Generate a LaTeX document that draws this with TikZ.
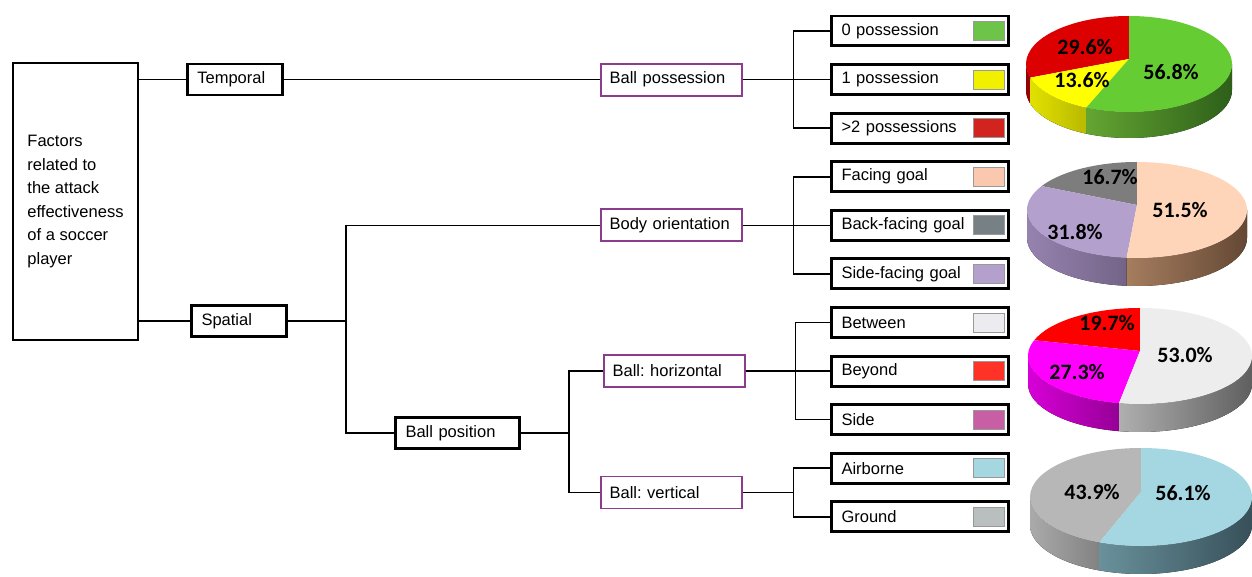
\documentclass[tikz,border=0pt]{standalone}
\usepackage{fontspec}
\setmainfont{Liberation Sans}
\newfontfamily\piefont{Carlito}
\usetikzlibrary{positioning, calc}

\definecolor{boxpurple}{RGB}{140,60,140}
\definecolor{swgreen}{RGB}{110,196,72}
\definecolor{swyellow}{RGB}{240,240,0}
\definecolor{swred}{RGB}{210,35,30}
\definecolor{swpeach}{RGB}{250,200,175}
\definecolor{swslate}{RGB}{118,128,133}
\definecolor{swlilac}{RGB}{180,160,205}
\definecolor{swwhite}{RGB}{236,236,240}
\definecolor{swbright}{RGB}{255,50,40}
\definecolor{swpink}{RGB}{200,95,165}
\definecolor{swcyan}{RGB}{165,215,225}
\definecolor{swgrey}{RGB}{185,190,190}
% pie colours: top, side left, side right
\definecolor{pgreen}{RGB}{102,204,51}
\definecolor{pgreenl}{RGB}{100,165,50}
\definecolor{pgreenr}{RGB}{45,95,25}
\definecolor{pyellow}{RGB}{255,255,0}
\definecolor{pyellowl}{RGB}{225,225,0}
\definecolor{pyellowr}{RGB}{185,185,0}
\definecolor{pred}{RGB}{220,0,0}
\definecolor{predside}{RGB}{150,0,0}
\definecolor{ppeach}{RGB}{255,213,185}
\definecolor{ppeachl}{RGB}{165,125,95}
\definecolor{ppeachr}{RGB}{100,72,52}
\definecolor{plilac}{RGB}{180,160,205}
\definecolor{plilacl}{RGB}{150,130,175}
\definecolor{plilacr}{RGB}{115,100,135}
\definecolor{pdark}{RGB}{125,125,125}
\definecolor{plight}{RGB}{237,237,237}
\definecolor{plightl}{RGB}{175,175,175}
\definecolor{plightr}{RGB}{95,95,95}
\definecolor{pmag}{RGB}{255,0,255}
\definecolor{pmagl}{RGB}{215,0,215}
\definecolor{pmagr}{RGB}{150,0,150}
\definecolor{pscarlet}{RGB}{255,0,0}
\definecolor{pcyan}{RGB}{165,215,226}
\definecolor{pcyanl}{RGB}{105,145,155}
\definecolor{pcyanr}{RGB}{55,80,90}
\definecolor{pgrey}{RGB}{183,183,183}
\definecolor{pgreyl}{RGB}{170,170,170}
\definecolor{pgreyr}{RGB}{130,130,130}

\tikzstyle{mainbox} = [rectangle, draw=black, line width=1.3pt, minimum width=2.5cm, minimum height=5.54cm, align=left, inner sep=0pt]
\tikzstyle{factor} = [rectangle, draw=black, line width=1.6pt, minimum height=0.62cm, inner xsep=0.2cm, inner ysep=2pt, text width=1.5cm, align=left]
\tikzstyle{subfactor} = [rectangle, draw=boxpurple, line width=1.1pt, minimum height=0.64cm, inner xsep=0.18cm, inner ysep=2pt, text width=2.46cm, align=left]
\tikzstyle{leaf} = [rectangle, draw=black, line width=1.7pt, minimum height=0.6cm, inner xsep=0.2cm, inner ysep=2pt, text width=3.14cm, align=left]
\tikzstyle{swatch} = [rectangle, draw=black!40, line width=0.4pt, minimum width=0.62cm, minimum height=0.38cm, inner sep=0pt]
\tikzstyle{connector} = [line width=0.9pt]
\tikzstyle{pct} = [font=\piefont\bfseries\fontsize{12.5}{13}\selectfont, inner sep=0pt]

% top of a slice: cx, cy, rx, ry, from, to, colour
\newcommand{\slicetop}[7]{\fill[#7] (#1,#2+5) -- ($(#1,#2)+(#5:#3 and #4)$) arc[start angle=#5, end angle=#6, x radius=#3, y radius=#4] -- cycle;}
% side of a slice: cx, cy, rx, ry, from, to, depth, left colour, right colour
\newcommand{\sliceside}[9]{\fill[left color=#8, right color=#9] ($(#1,#2)+(#5:#3 and #4)$) arc[start angle=#5, end angle=#6, x radius=#3, y radius=#4] -- ++(0,-#7) arc[start angle=#6, end angle=#5, x radius=#3, y radius=#4] -- cycle;}

\frenchspacing
\begin{document}
\begin{tikzpicture}[x=0.02cm, y=0.02cm, node distance=0.312cm, every node/.style={font=\fontsize{9.4}{13.4}\selectfont}]
\useasboundingbox (0,0) rectangle (1252,-577);

% tree of factors
\node (factors) [mainbox] at (75.5,-201.5) {Factors\\related to\\the attack\\effectiveness\\of a soccer\\player};

\node (zero) [leaf] at (920,-31) {0 possession};
\node (one) [leaf, below = of zero] {1 possession};
\node (twoplus) [leaf, below = of one] {>2 possessions};
\node (facing) [leaf, below = of twoplus] {Facing goal};
\node (backfacing) [leaf, below = of facing] {Back-facing goal};
\node (sidefacing) [leaf, below = of backfacing] {Side-facing goal};
\node (between) [leaf, below = of sidefacing] {Between};
\node (beyond) [leaf, below = of between] {Beyond};
\node (side) [leaf, below = of beyond] {Side};
\node (airborne) [leaf, below = of side] {Airborne};
\node (ground) [leaf, below = of airborne] {Ground};

\node (swzero) [swatch, fill=swgreen, left = 0.11cm of zero.east] {};
\node (swone) [swatch, fill=swyellow, left = 0.11cm of one.east] {};
\node (swtwoplus) [swatch, fill=swred, left = 0.11cm of twoplus.east] {};
\node (swfacing) [swatch, fill=swpeach, left = 0.11cm of facing.east] {};
\node (swbackfacing) [swatch, fill=swslate, left = 0.11cm of backfacing.east] {};
\node (swsidefacing) [swatch, fill=swlilac, left = 0.11cm of sidefacing.east] {};
\node (swbetween) [swatch, fill=swwhite, left = 0.11cm of between.east] {};
\node (swbeyond) [swatch, fill=swbright, left = 0.11cm of beyond.east] {};
\node (swside) [swatch, fill=swpink, left = 0.11cm of side.east] {};
\node (swairborne) [swatch, fill=swcyan, left = 0.11cm of airborne.east] {};
\node (swground) [swatch, fill=swgrey, left = 0.11cm of ground.east] {};

\node (ballposs) [subfactor, left = 1.75cm of one] {Ball possession};
\node (bodyor) [subfactor, left = 1.75cm of backfacing] {Body orientation};
\node (ballhor) [subfactor, left = 1.69cm of beyond] {Ball: horizontal};
\node (ballver) [subfactor, left = 1.75cm of $(airborne.west)!0.5!(ground.west)$] {Ball: vertical};

\node (temporal) [factor, left = 6.32cm of ballposs] {Temporal};
\node (spatial) [factor] at (239,-321) {Spatial};
\node (ballpos) [factor, text width=2.08cm] at (457.5,-433) {Ball position};

\draw [connector] (temporal.west -| factors.east) -- (temporal.west);
\draw [connector] (spatial.west -| factors.east) -- (spatial.west);
\draw [connector] (temporal) -- (ballposs);
\foreach \n in {bodyor, ballpos}
    \draw [connector] (spatial.east) -- ++(58,0) |- (\n.west);
\foreach \n in {ballhor, ballver}
    \draw [connector] (ballpos.east) -- ++(48,0) |- (\n.west);
\foreach \n in {zero, one, twoplus}
    \draw [connector] (ballposs.east) -- ++(51,0) |- (\n.west);
\foreach \n in {facing, backfacing, sidefacing}
    \draw [connector] (bodyor.east) -- ++(51,0) |- (\n.west);
\foreach \n in {between, beyond, side}
    \draw [connector] (ballhor.east) -- ++(50,0) |- (\n.west);
\foreach \n in {airborne, ground}
    \draw [connector] (ballver.east) -- ++(51,0) |- (\n.west);

% pie charts
\sliceside{1129}{-64}{103}{48}{180}{196.5}{26}{predside}{predside}
\sliceside{1129}{-64}{103}{48}{196.5}{245.5}{26}{pyellowl}{pyellowr}
\sliceside{1129}{-64}{103}{48}{245.5}{360}{26}{pgreenl}{pgreenr}
\slicetop{1129}{-64}{103}{48}{90}{196.5}{pred}
\slicetop{1129}{-64}{103}{48}{196.5}{245.5}{pyellow}
\slicetop{1129}{-64}{103}{48}{245.5}{450}{pgreen}

\sliceside{1137}{-210}{110}{48}{180}{264.6}{28}{plilacl}{plilacr}
\sliceside{1137}{-210}{110}{48}{264.6}{360}{28}{ppeachl}{ppeachr}
\slicetop{1137}{-210}{110}{48}{90}{150.1}{pdark}
\slicetop{1137}{-210}{110}{48}{150.1}{264.6}{plilac}
\slicetop{1137}{-210}{110}{48}{264.6}{450}{ppeach}

\sliceside{1140}{-356}{112}{48}{180}{259.2}{28}{pmagl}{pmagr}
\sliceside{1140}{-356}{112}{48}{259.2}{360}{28}{plightl}{plightr}
\slicetop{1140}{-356}{112}{48}{90}{160.9}{pscarlet}
\slicetop{1140}{-356}{112}{48}{160.9}{259.2}{pmag}
\slicetop{1140}{-356}{112}{48}{259.2}{450}{plight}

\sliceside{1141}{-497}{111}{49}{180}{248}{28}{pgreyl}{pgreyr}
\sliceside{1141}{-497}{111}{49}{248}{360}{28}{pcyanl}{pcyanr}
\slicetop{1141}{-497}{111}{49}{90}{248}{pgrey}
\slicetop{1141}{-497}{111}{49}{248}{450}{pcyan}

\node (pzero) [pct] at (1171,-72) {56.8\%};
\node (ptwoplus) [pct] at (1085,-47) {29.6\%};
\node (pone) [pct] at (1082,-80) {13.6\%};
\node (pbackfacing) [pct] at (1110,-177) {16.7\%};
\node (pfacing) [pct] at (1180,-210) {51.5\%};
\node (psidefacing) [pct] at (1075,-232) {31.8\%};
\node (pbeyond) [pct] at (1107,-323) {19.7\%};
\node (pbetween) [pct] at (1185,-355) {53.0\%};
\node (pside) [pct] at (1077,-372) {27.3\%};
\node (pground) [pct] at (1092,-492) {43.9\%};
\node (pairborne) [pct] at (1183,-493) {56.1\%};

\end{tikzpicture}
\end{document}
